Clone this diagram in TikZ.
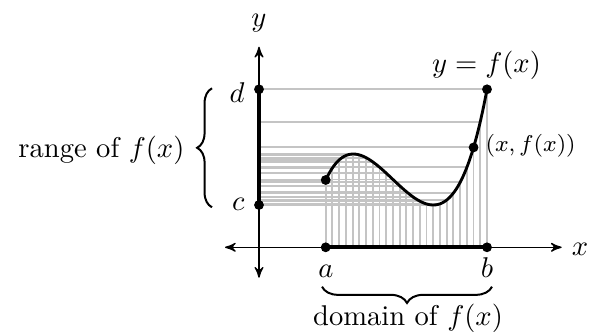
\documentclass[tikz,border=0pt]{standalone}
\usepackage{tkz-euclide}
\usetikzlibrary{arrows,calc,decorations.pathreplacing}
\definecolor{GridClr}{rgb}{0.77,0.77,0.77}

\begin{document}
\begin{tikzpicture}[x=.35pt,y=.35pt,>=stealth',
  declare function={xv(\k)=66.7+161.3*\k/24;
    fv(\s)=((((487.14*\s-1095.51)*\s+1756.97)*\s-1403.67)*\s+345.77)*\s+67.3;}]
\useasboundingbox (-259,-83.7) rectangle (330,247.3);
\tkzSetUpLine[line width=1.4pt,color=black]
\tkzSetUpPoint[fill=black]

\tkzDefPoints{0/0/O,66.7/0/A,228/0/B,0/42.3/C,0/158/D,66.7/67.3/P,228/158/Q}
\tkzDefPoints{-34/0/XL,302.7/0/XR,0/-30.4/YB,0/200.6/YT}
\coordinate (R) at ({xv(22)},{fv(22/24)});

% samples of the graph
\foreach \k in {0,...,24}{
  \pgfmathsetmacro\xk{xv(\k)}
  \pgfmathsetmacro\yk{fv(\k/24)}
  \draw[GridClr,line width=.65pt] (0,\yk) -- (\xk,\yk) -- (\xk,0);
}

\draw[<->,line width=.45pt] (XL) -- (XR);
\draw[<->,line width=.45pt] (YB) -- (YT);

\tkzDrawSegments(C,D A,B)
\draw[line width=1pt] plot[domain=0:1,samples=80] ({66.7+161.3*\x},{fv(\x)});
\tkzDrawPoints[size=3](A,B,C,D,P,Q,R)

% braces
\coordinate (R1) at (-47,40);
\coordinate (R2) at (-47,159);
\coordinate (D1) at (233,-39.4);
\coordinate (D2) at (63,-39.4);
\draw[decorate,decoration={brace,amplitude=5.2pt},line width=.7pt] (R1) -- (R2);
\draw[decorate,decoration={brace,amplitude=5.7pt},line width=.7pt] (D1) -- (D2);

\node[anchor=base] (ly) at (0,220.7) {$y$};
\node[anchor=base] (lx) at (321,-7.7) {$x$};
\node[anchor=base] (la) at (67,-29.7) {$a$};
\node[anchor=base] (lb) at (228,-29.7) {$b$};
\node[anchor=base east,inner sep=0pt] (lc) at (-14,37.3) {$c$};
\node[anchor=base east,inner sep=0pt] (ld) at (-14,145.3) {$d$};
\node[anchor=base] (lf) at (227.5,175) {$y=f(x)$};
\node[anchor=base west,inner sep=0pt,font=\footnotesize] (lr) at (226,95.6) {$(x,f(x))$};
\node[anchor=base east,inner sep=0pt] (lrange) at (-74,90) {range of $f(x)$};
\node[anchor=base] (ldom) at (149,-77.7) {domain of $f(x)$};

\end{tikzpicture}
\end{document}
